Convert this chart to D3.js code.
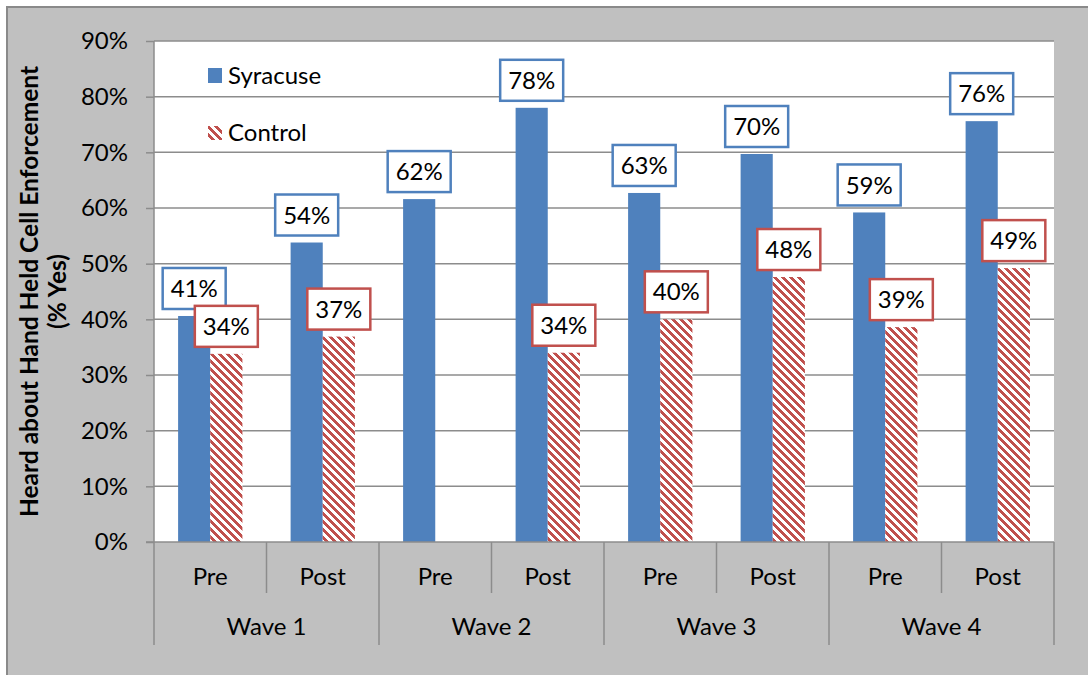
<!DOCTYPE html>
<html>
<head>
<meta charset="utf-8">
<script src="https://cdn.jsdelivr.net/npm/d3@7"></script>
<style>
  html, body { margin: 0; padding: 0; background: #ffffff; }
  svg { display: block; }
  text { font-family: Lato, "Open Sans", sans-serif; fill: #000; }
</style>
</head>
<body>
<svg id="chart" width="1088" height="675"></svg>
<script>
// Survey waves and the two phases within each wave
const waves = ["Wave 1", "Wave 2", "Wave 3", "Wave 4"];
const phases = ["Pre", "Post"];
const seriesNames = ["Syracuse", "Control"];

// Share who heard about hand-held cell enforcement (% yes), one value per wave/phase
const syracuseValues = [40.6, 53.8, 61.6, 78.0, 62.7, 69.7, 59.2, 75.6];
const controlValues  = [33.8, 36.9, null, 34.0, 40.0, 47.6, 38.6, 49.2];

// Y axis tick values (percent)
const yTicks = [0, 10, 20, 30, 40, 50, 60, 70, 80, 90];

const colors = { Syracuse: "#4f81bd", Control: "#c0504d" };

const svg = d3.select("#chart");
const W = 1088, H = 675;
const plot = { left: 154, right: 1054, top: 41, bottom: 542 };
const FONT = 24;

// Background frame
svg.append("rect").attr("width", W).attr("height", H).attr("fill", "#ffffff");
svg.append("rect")
  .attr("x", 7).attr("y", 7).attr("width", W + 20).attr("height", H + 20)
  .attr("fill", "#c0c0c0").attr("stroke", "#8a8a8a").attr("stroke-width", 2);

// Diagonal hatch pattern for the control series
const defs = svg.append("defs");
const pat = defs.append("pattern")
  .attr("id", "hatch").attr("patternUnits", "userSpaceOnUse")
  .attr("width", 8).attr("height", 8)
  .attr("shape-rendering", "crispEdges");
pat.append("rect").attr("width", 8).attr("height", 8).attr("fill", "#ffffff");
for (let r = 0; r < 8; r++) {
  for (let k = 0; k < 4; k++) {
    pat.append("rect")
      .attr("x", (r + k) % 8).attr("y", r).attr("width", 1).attr("height", 1)
      .attr("fill", colors.Control);
  }
}

// Flattened category keys: one per wave/phase
const cats = [];
waves.forEach(w => phases.forEach(p => cats.push({ wave: w, phase: p, key: w + "|" + p })));

const x0 = d3.scaleBand().domain(cats.map(c => c.key)).range([plot.left, plot.right]).padding(0);
const xw = d3.scaleBand().domain(waves).range([plot.left, plot.right]).padding(0);
const x1 = d3.scaleBand().domain(seriesNames).range([0, x0.bandwidth()])
  .paddingInner(0).paddingOuter(0.75);
const y = d3.scaleLinear().domain([0, 90]).range([plot.bottom, plot.top]);

// Plot area
svg.append("rect")
  .attr("x", plot.left).attr("y", plot.top)
  .attr("width", plot.right - plot.left).attr("height", plot.bottom - plot.top)
  .attr("fill", "#ffffff");

// Horizontal gridlines
svg.append("g").selectAll("line").data(yTicks.filter(t => t > 0)).join("line")
  .attr("x1", plot.left).attr("x2", plot.right)
  .attr("y1", d => y(d)).attr("y2", d => y(d))
  .attr("stroke", "#8c8c8c").attr("stroke-width", 1.5);

// Y axis
const yAxis = svg.append("g").attr("transform", `translate(${plot.left},0)`)
  .call(d3.axisLeft(y).tickValues(yTicks).tickFormat(d => d + "%").tickSize(8).tickPadding(18));
yAxis.select(".domain").remove();
yAxis.selectAll(".tick line").attr("stroke", "#8c8c8c").attr("stroke-width", 1.5);
yAxis.selectAll(".tick text").style("font-size", FONT + "px").style("font-family", "Lato").attr("fill", "#000");
svg.append("line")
  .attr("x1", plot.left).attr("x2", plot.left).attr("y1", plot.top).attr("y2", 645)
  .attr("stroke", "#8c8c8c").attr("stroke-width", 1.5);

// Bars
const rows = cats.map((c, i) => ({
  cat: c,
  vals: [
    { series: "Syracuse", v: syracuseValues[i] },
    { series: "Control", v: controlValues[i] }
  ]
}));

const barG = svg.append("g");
rows.forEach(row => {
  row.vals.forEach(d => {
    if (d.v == null) return;
    barG.append("rect")
      .attr("x", x0(row.cat.key) + x1(d.series))
      .attr("y", y(d.v))
      .attr("width", x1.bandwidth())
      .attr("height", y(0) - y(d.v))
      .attr("fill", d.series === "Syracuse" ? colors.Syracuse : "url(#hatch)");
  });
});

// Category axis: baseline and separators
svg.append("line")
  .attr("x1", plot.left - 8).attr("x2", plot.right).attr("y1", plot.bottom).attr("y2", plot.bottom)
  .attr("stroke", "#8c8c8c").attr("stroke-width", 1.5);
const sepG = svg.append("g").attr("stroke", "#8c8c8c").attr("stroke-width", 1.5);
waves.forEach(w => {
  sepG.append("line").attr("x1", xw(w) + xw.bandwidth()).attr("x2", xw(w) + xw.bandwidth())
    .attr("y1", plot.bottom).attr("y2", 645);
  const mid = x0(w + "|Post");
  sepG.append("line").attr("x1", mid).attr("x2", mid).attr("y1", plot.bottom).attr("y2", 593);
});

svg.append("g").selectAll("text").data(cats).join("text")
  .attr("x", d => x0(d.key) + x0.bandwidth() / 2)
  .attr("y", 585)
  .attr("text-anchor", "middle")
  .style("font-size", FONT + "px")
  .text(d => d.phase);

svg.append("g").selectAll("text").data(waves).join("text")
  .attr("x", d => xw(d) + xw.bandwidth() / 2)
  .attr("y", 635)
  .attr("text-anchor", "middle")
  .style("font-size", FONT + "px")
  .text(d => d);

// Data labels in boxes above each bar
const boxW = 63, boxH = 41, gap = 7;
const lblG = svg.append("g");
rows.forEach(row => {
  row.vals.forEach(d => {
    if (d.v == null) return;
    const cx = x0(row.cat.key) + x1(d.series) + x1.bandwidth() / 2;
    const bottom = y(d.v) - gap;
    lblG.append("rect")
      .attr("x", cx - boxW / 2).attr("y", bottom - boxH)
      .attr("width", boxW).attr("height", boxH)
      .attr("fill", "#ffffff")
      .attr("stroke", colors[d.series]).attr("stroke-width", 2.5);
    lblG.append("text")
      .attr("x", cx).attr("y", bottom - boxH / 2)
      .attr("dy", "0.36em")
      .attr("text-anchor", "middle")
      .style("font-size", FONT + "px")
      .text(Math.round(d.v) + "%");
  });
});

// Legend
const legend = svg.append("g");
legend.append("rect").attr("x", 208).attr("y", 68).attr("width", 14).attr("height", 15)
  .attr("fill", colors.Syracuse);
legend.append("text").attr("x", 228).attr("y", 84).style("font-size", FONT + "px").text("Syracuse");
legend.append("rect").attr("x", 208).attr("y", 126).attr("width", 14).attr("height", 14)
  .attr("fill", "url(#hatch)");
legend.append("text").attr("x", 228).attr("y", 141).style("font-size", FONT + "px").text("Control");

// Y axis title
const title = svg.append("text")
  .attr("transform", `translate(38,${(plot.top + plot.bottom) / 2}) rotate(-90)`)
  .attr("text-anchor", "middle")
  .style("font-size", "24.5px").style("font-weight", "bold");
title.append("tspan").attr("x", 0).attr("dy", 0).text("Heard about Hand Held Cell Enforcement");
title.append("tspan").attr("x", 0).attr("dy", 28).text("(% Yes)");
</script>
</body>
</html>
